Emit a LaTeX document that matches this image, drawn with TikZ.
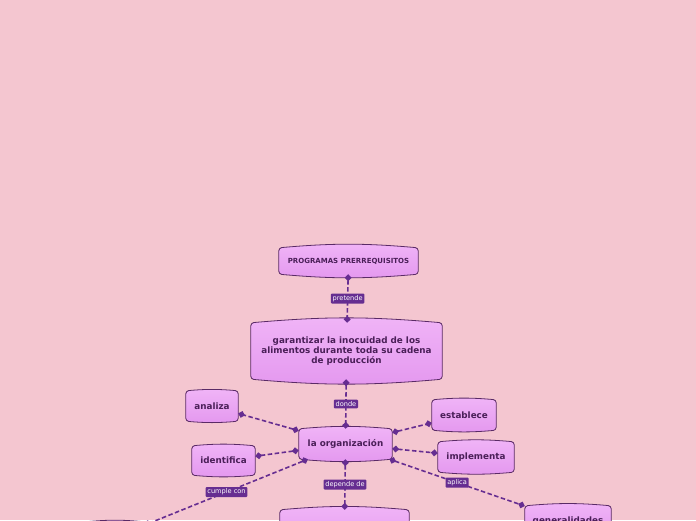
\documentclass[tikz,border=0pt]{standalone}
\usepackage{fontspec}
\setmainfont{DejaVu Sans}
\usetikzlibrary{arrows.meta}
\definecolor{bgpink}{HTML}{F4C6D0}
\definecolor{conceptfill}{HTML}{F0B4F7}
\definecolor{conceptdark}{HTML}{E498EF}
\definecolor{conceptline}{HTML}{5A2A66}
\definecolor{concepttext}{HTML}{4A1F58}
\definecolor{linkpurple}{HTML}{662D91}
\pgfdeclarelayer{back}
\pgfdeclarelayer{shape}
\pgfsetlayers{back,shape,main}

\tikzset{
    concept/.style={inner sep=2pt, align=center, text=concepttext,
        font=\fontsize{8.8}{10.4}\selectfont\bfseries},
    conceptshape/.style={draw=conceptline, line width=0.8pt, top color=conceptfill,
        bottom color=conceptdark, rounded corners=3pt},
    link/.style={linkpurple, line width=1.6pt, dash pattern=on 4.5pt off 2.5pt,
        {Diamond[length=7pt,width=7pt]}-{Diamond[length=7pt,width=7pt]}},
    lbl/.style={fill=linkpurple, text=white, font=\fontsize{6.6}{7}\selectfont,
        inner sep=1.8pt, rounded corners=1pt, solid}
}
\newcommand\conceptbox[1]{\path[conceptshape] (#1.north west) to[bend left=5] (#1.north east)
    -- (#1.south east) to[bend left=5] (#1.south west) -- cycle;}

\begin{document}
\begin{tikzpicture}[x=1pt,y=-1pt]
        \begin{pgfonlayer}{back}
            \fill[bgpink] (0,0) rectangle (696,520);
        \end{pgfonlayer}
        \clip (0,0) rectangle (696,520);
        \node[concept, minimum width=139pt, minimum height=26pt, font=\fontsize{7}{8}\selectfont\bfseries](P) at (348.5,261) {PROGRAMAS PRERREQUISITOS};
        \node[concept, minimum width=191pt, minimum height=56pt](G) at (346.5,351) {garantizar la inocuidad de los\\alimentos durante toda su cadena\\de producción};
        \node[concept, minimum width=93pt, minimum height=30pt](O) at (345.5,444) {la organización};
        \node[concept, minimum width=52pt, minimum height=30pt](An) at (212,406) {analiza};
        \node[concept, minimum width=63pt, minimum height=29pt](Id) at (223.5,460.5) {identifica};
        \node[concept, minimum width=64pt, minimum height=30pt](Es) at (464,415) {establece};
        \node[concept, minimum width=76pt, minimum height=30pt](Im) at (476,457) {implementa};
        \node[concept, minimum width=60pt, minimum height=30pt](Bl) at (115,537) {};
        \node[concept, minimum width=129pt, minimum height=40pt](Bc) at (344.5,530) {};
        \node[concept, minimum width=86pt, minimum height=30pt](Ge) at (568,521) {generalidades};
        \begin{pgfonlayer}{shape}
            \foreach \n in {P,G,O,An,Id,Es,Im,Bl,Bc,Ge} \conceptbox{\n};
        \end{pgfonlayer}
        \path
            (P) edge [link] node[lbl] {pretende} (G)
            (G) edge [link] node[lbl] {donde} (O)
            (O) edge [link] (An)
                edge [link] (Id)
                edge [link] (Es)
                edge [link] (Im)
                edge [link] node[lbl] {cumple con} (Bl)
                edge [link] node[lbl] {depende de} (Bc)
                edge [link] node[lbl] {aplica} (Ge)
            ;
    \end{tikzpicture}
\end{document}
